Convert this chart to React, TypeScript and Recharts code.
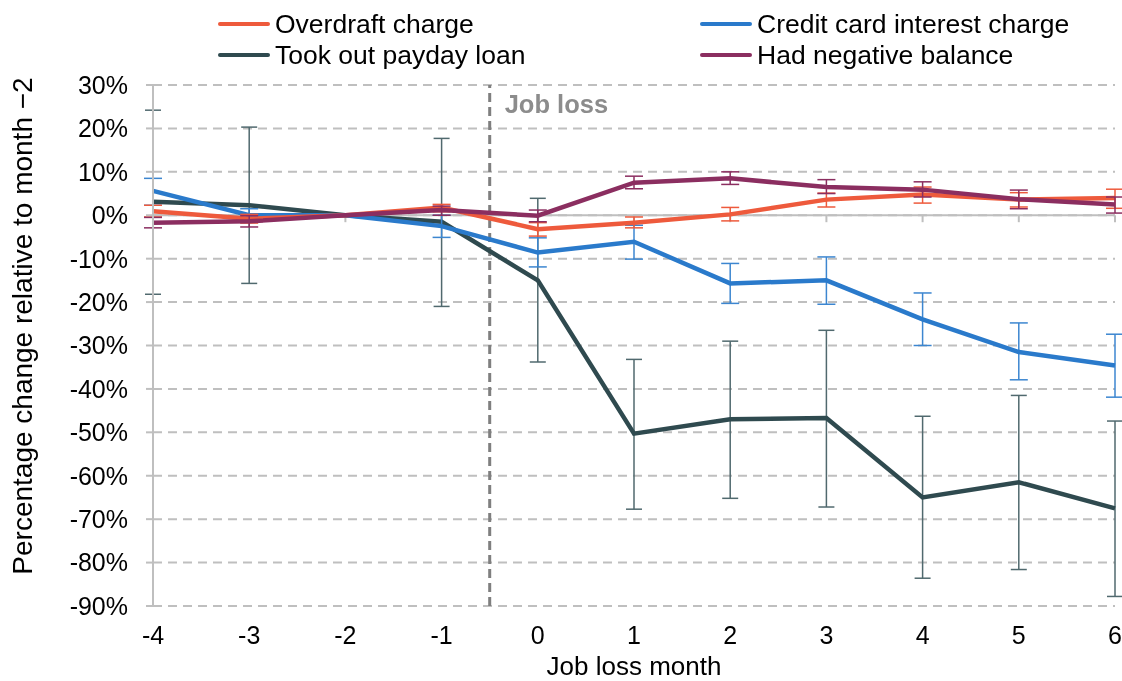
import React from "react";
import {
  LineChart,
  Line,
  XAxis,
  YAxis,
  CartesianGrid,
  ReferenceLine,
  ErrorBar,
} from "recharts";

const months = [-4, -3, -2, -1, 0, 1, 2, 3, 4, 5, 6];
const yTicks = [30, 20, 10, 0, -10, -20, -30, -40, -50, -60, -70, -80, -90];

const overdraft = [0.9, -0.8, 0, 1.8, -3.2, -1.7, 0.2, 3.6, 4.8, 3.6, 4.0];
const overdraftLow = [-0.4, -1.8, null, 0.8, -4.8, -2.9, -1.3, 1.9, 2.8, 1.9, 1.6];
const overdraftHigh = [2.3, 0.2, null, 2.5, -1.7, -0.4, 1.8, 5.1, 6.5, 5.2, 6.0];

const credit = [5.6, 0, 0, -2.5, -8.6, -6.1, -15.7, -15.0, -24.0, -31.5, -34.6];
const creditLow = [2.3, -1.5, null, -5.1, -11.9, -10.1, -20.3, -20.5, -30.0, -37.9, -41.9];
const creditHigh = [8.5, 1.5, null, 0, -5.2, -2.3, -11.1, -9.6, -17.9, -24.8, -27.4];

const payday = [3.1, 2.3, 0, -1.5, -15.0, -50.3, -47.0, -46.7, -65.0, -61.5, -67.5];
const paydayLow = [-18.2, -15.7, null, -21.0, -33.8, -67.7, -65.2, -67.2, -83.6, -81.6, -87.8];
const paydayHigh = [24.2, 20.3, null, 17.7, 3.9, -33.2, -29.0, -26.5, -46.3, -41.5, -47.4];

const negative = [-1.7, -1.4, 0, 1.2, -0.1, 7.5, 8.5, 6.5, 5.9, 3.7, 2.5];
const negativeLow = [-2.9, -2.7, null, 0, -1.5, 6.1, 7.1, 5.0, 4.2, 1.5, 0.5];
const negativeHigh = [-0.5, -0.1, null, 2.1, 1.2, 9.0, 10.0, 8.2, 7.7, 5.8, 4.2];

const seriesNames = {
  overdraft: "Overdraft charge",
  credit: "Credit card interest charge",
  payday: "Took out payday loan",
  negative: "Had negative balance",
};
const colors = {
  overdraft: "#EE5A3C",
  credit: "#2A7ACB",
  payday: "#2F4A4F",
  negative: "#8B2E60",
};
const errColors = {
  overdraft: "#EE5A3C",
  credit: "#3C86D0",
  payday: "#50696E",
  negative: "#8B2E60",
};

const err = (v: number, lo: number | null, hi: number | null) =>
  lo === null || hi === null ? null : [v - lo, hi - v];

const data = months.map((m, i) => ({
  month: m,
  overdraft: overdraft[i],
  overdraftErr: err(overdraft[i], overdraftLow[i], overdraftHigh[i]),
  credit: credit[i],
  creditErr: err(credit[i], creditLow[i], creditHigh[i]),
  payday: payday[i],
  paydayErr: err(payday[i], paydayLow[i], paydayHigh[i]),
  negative: negative[i],
  negativeErr: err(negative[i], negativeLow[i], negativeHigh[i]),
}));

const FONT = "'Liberation Sans', Arial, sans-serif";
const legendItems: [keyof typeof colors, number, number][] = [
  ["overdraft", 210, 16],
  ["credit", 692, 16],
  ["payday", 210, 47],
  ["negative", 692, 47],
];

export default function App() {
  return (
    <div
      style={{
        position: "fixed",
        left: 8,
        top: 8,
        width: 1114,
        height: 673,
        fontFamily: FONT,
      }}
    >
      <LineChart
        width={1114}
        height={673}
        data={data}
        margin={{ top: 77, right: 7, left: 0, bottom: 0 }}
        style={{ overflow: "visible" }}
      >
        <CartesianGrid
          vertical={false}
          stroke="#BFBFBF"
          strokeWidth={2}
          strokeDasharray="9 6"
        />
        <XAxis
          dataKey="month"
          type="number"
          domain={[-4, 6]}
          ticks={months}
          axisLine={false}
          tickLine={false}
          tickSize={0}
          tickMargin={20}
          height={75}
          tick={{ fill: "#000", fontSize: 25, fontFamily: FONT }}
          label={{
            content: (props: any) => {
              const vb = props.viewBox;
              return (
                <text
                  x={vb.x + vb.width / 2}
                  y={vb.y + 69}
                  textAnchor="middle"
                  fontSize={26}
                  fontFamily={FONT}
                  fill="#000"
                >
                  Job loss month
                </text>
              );
            },
          }}
        />
        <YAxis
          type="number"
          domain={[-90, 30]}
          ticks={yTicks}
          width={145}
          axisLine={{ stroke: "#BFBFBF", strokeWidth: 2 }}
          tickLine={{ stroke: "#BFBFBF", strokeWidth: 2 }}
          tickSize={7}
          tickMargin={18}
          tickFormatter={(v: number) => `${v}%`}
          tick={{ fill: "#000", fontSize: 25, fontFamily: FONT }}
          label={{
            content: (props: any) => {
              const vb = props.viewBox;
              const cx = vb.x + 14;
              const cy = 318;
              return (
                <text
                  x={cx}
                  y={cy}
                  transform={`rotate(-90 ${cx} ${cy})`}
                  textAnchor="middle"
                  dominantBaseline="central"
                  fontSize={28}
                  fontFamily={FONT}
                  fill="#000"
                >
                  Percentage change relative to month −2
                </text>
              );
            },
          }}
        />
        <ReferenceLine y={0} stroke="#BFBFBF" strokeWidth={2} />
        {months.map((m) => (
          <ReferenceLine
            key={"t" + m}
            segment={[
              { x: m, y: 0 },
              { x: m, y: -1.6 },
            ]}
            stroke="#BFBFBF"
            strokeWidth={2}
          />
        ))}
        <ReferenceLine
          x={-0.5}
          stroke="#7F7F7F"
          strokeWidth={3}
          strokeDasharray="9 5"
          label={{
            content: (props: any) => {
              const vb = props.viewBox;
              return (
                <text
                  x={vb.x + 15}
                  y={vb.y + 28}
                  fontSize={25.5}
                  fontWeight="bold"
                  fontFamily={FONT}
                  fill="#8C8C8C"
                >
                  Job loss
                </text>
              );
            },
          }}
        />
        <Line
          dataKey="payday"
          stroke={colors.payday}
          strokeWidth={4.5}
          dot={false}
          isAnimationActive={false}
        >
          <ErrorBar dataKey="paydayErr" direction="y" width={8} stroke={errColors.payday} strokeWidth={1.5} />
        </Line>
        <Line
          dataKey="credit"
          stroke={colors.credit}
          strokeWidth={4.5}
          dot={false}
          isAnimationActive={false}
        >
          <ErrorBar dataKey="creditErr" direction="y" width={9} stroke={errColors.credit} strokeWidth={1.5} />
        </Line>
        <Line
          dataKey="overdraft"
          stroke={colors.overdraft}
          strokeWidth={4.5}
          dot={false}
          isAnimationActive={false}
        >
          <ErrorBar dataKey="overdraftErr" direction="y" width={9} stroke={errColors.overdraft} strokeWidth={1.5} />
        </Line>
        <Line
          dataKey="negative"
          stroke={colors.negative}
          strokeWidth={4.5}
          dot={false}
          isAnimationActive={false}
        >
          <ErrorBar dataKey="negativeErr" direction="y" width={9} stroke={errColors.negative} strokeWidth={1.5} />
        </Line>
      </LineChart>
      {legendItems.map(([key, x, y]) => (
        <div
          key={key}
          style={{
            position: "absolute",
            left: x,
            top: y - 15,
            height: 30,
            display: "flex",
            alignItems: "center",
            whiteSpace: "nowrap",
          }}
        >
          <div style={{ width: 52, height: 4.5, background: colors[key], borderRadius: 2 }} />
          <span style={{ marginLeft: 5, fontSize: 26.5, color: "#000", fontFamily: FONT }}>
            {seriesNames[key]}
          </span>
        </div>
      ))}
    </div>
  );
}
